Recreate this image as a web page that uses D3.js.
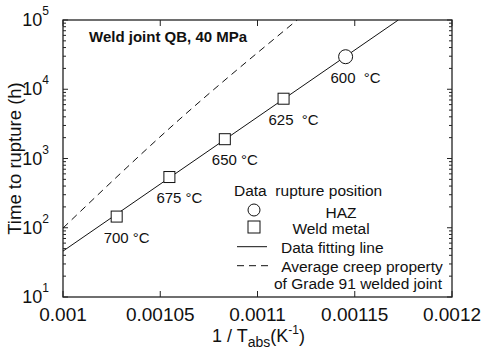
<!DOCTYPE html>
<html>
<head>
<meta charset="utf-8">
<script src="https://cdn.jsdelivr.net/npm/d3@7"></script>
<style>
  body { margin: 0; background: #fff; }
  text { font-family: "Liberation Sans", Arial, sans-serif; fill: #111; white-space: pre; }
</style>
</head>
<body>
<div id="chart"></div>
<script>
// data
const temps = ["600  °C", "625  °C", "650 °C", "675 °C", "700 °C"]
const invT = [0.0011453, 0.0011134, 0.0010832, 0.0010547, 0.0010276]
const hours = [29500, 7300, 1900, 540, 145]
const ruptureAt = ["HAZ", "Weld metal", "Weld metal", "Weld metal", "Weld metal"]

const fitX = [0.001, 0.0011724]
const fitY = [46, 100000]
const avgX = [0.001, 0.0010584, 0.0011204]
const avgY = [99, 3370, 100000]

const xTicks = [0.001, 0.00105, 0.0011, 0.00115, 0.0012]
const xTickLabels = ["0.001", "0.00105", "0.0011", "0.00115", "0.0012"]
const yExponents = [1, 2, 3, 4, 5]

const MARGIN = {top: 20, right: 32, bottom: 54, left: 63}
const W = 484, H = 351
const WIDTH = W - MARGIN.left - MARGIN.right
const HEIGHT = H - MARGIN.top - MARGIN.bottom

const svg = d3.select("#chart").append("svg")
  .attr("width", W).attr("height", H)
const g = svg.append("g")
  .attr("transform", "translate(" + MARGIN.left + "," + MARGIN.top + ")")

const x = d3.scaleLinear().domain([0.001, 0.0012]).range([0, WIDTH])
const y = d3.scaleLog().domain([10, 100000]).range([HEIGHT, 0])

// minor log ticks (2..9 in each decade)
const minor = []
for (let e = 1; e < 5; e++) for (let m = 2; m <= 9; m++) minor.push(m * Math.pow(10, e))
const major = yExponents.map(e => Math.pow(10, e))

const ax = g.append("g").attr("stroke", "#222").attr("stroke-width", 1)
ax.selectAll(".yl").data(major.concat(minor)).enter().append("line")
  .attr("x1", 0).attr("x2", d => major.includes(d) ? 5 : 3)
  .attr("y1", d => y(d)).attr("y2", d => y(d))
ax.selectAll(".yr").data(major.concat(minor)).enter().append("line")
  .attr("x1", WIDTH).attr("x2", d => WIDTH - (major.includes(d) ? 5 : 3))
  .attr("y1", d => y(d)).attr("y2", d => y(d))
ax.selectAll(".xb").data(xTicks).enter().append("line")
  .attr("x1", d => x(d)).attr("x2", d => x(d))
  .attr("y1", HEIGHT).attr("y2", HEIGHT - 6)
ax.selectAll(".xt").data(xTicks).enter().append("line")
  .attr("x1", d => x(d)).attr("x2", d => x(d))
  .attr("y1", 0).attr("y2", 6)

g.append("rect").attr("width", WIDTH).attr("height", HEIGHT)
  .attr("fill", "none").attr("stroke", "#222").attr("stroke-width", 1.3)

// tick labels
g.selectAll(".xlab").data(xTicks).enter().append("text")
  .attr("x", d => x(d)).attr("y", HEIGHT + 24)
  .attr("text-anchor", "middle").style("font-size", "19px")
  .text((d, i) => xTickLabels[i])

const yl = g.selectAll(".ylab").data(yExponents).enter().append("text")
  .attr("x", -14).attr("y", d => y(Math.pow(10, d)) + 6)
  .attr("text-anchor", "end").style("font-size", "18px")
yl.append("tspan").text("10")
yl.append("tspan").attr("dy", -11).style("font-size", "12px").text(d => d)

// axis titles
g.append("text")
  .attr("transform", "translate(" + (-42) + "," + (HEIGHT / 2) + ") rotate(-90)")
  .attr("text-anchor", "middle").style("font-size", "18.5px")
  .text("Time to rupture (h)")

const xt = g.append("text").attr("x", WIDTH / 2 + 1).attr("y", HEIGHT + 45)
  .attr("text-anchor", "middle").style("font-size", "18px")
xt.append("tspan").text("1 / T")
xt.append("tspan").attr("dy", 5).style("font-size", "14px").text("abs")
xt.append("tspan").attr("dy", -5).text("(K")
xt.append("tspan").attr("dy", -8).style("font-size", "12px").text("-1")
xt.append("tspan").attr("dy", 8).text(")")

// lines
g.append("clipPath").attr("id", "clip").append("rect")
  .attr("width", WIDTH).attr("height", HEIGHT)
const line = d3.line().x(d => x(d[0])).y(d => y(d[1]))
g.append("path").attr("clip-path", "url(#clip)")
  .datum(fitX.map((v, i) => [v, fitY[i]]))
  .attr("d", line).attr("fill", "none").attr("stroke", "#111").attr("stroke-width", 1)
g.append("path").attr("clip-path", "url(#clip)")
  .datum(avgX.map((v, i) => [v, avgY[i]]))
  .attr("d", line.curve(d3.curveMonotoneX))
  .attr("fill", "none").attr("stroke", "#111").attr("stroke-width", 1)
  .attr("stroke-dasharray", "7,5")

// markers
const pts = invT.map((v, i) => ({x: v, y: hours[i], pos: ruptureAt[i], t: temps[i]}))
pts.forEach(p => {
  const px = x(p.x), py = y(p.y)
  if (p.pos === "HAZ") {
    g.append("circle").attr("cx", px).attr("cy", py).attr("r", 7)
      .attr("fill", "#fff").attr("stroke", "#111").attr("stroke-width", 1)
  } else {
    g.append("rect").attr("x", px - 5.5).attr("y", py - 5.5)
      .attr("width", 11).attr("height", 11)
      .attr("fill", "#fff").attr("stroke", "#111").attr("stroke-width", 1)
  }
  g.append("text").attr("x", px + 10).attr("y", py + 26)
    .attr("text-anchor", "middle").style("font-size", "15px").text(p.t)
})

g.append("text").attr("x", 26).attr("y", 22)
  .style("font-size", "15px").style("font-weight", "bold")
  .text("Weld joint QB, 40 MPa")

// legend
const lg = g.append("g").attr("transform", "translate(" + (x(0.001) + 171) + ",0)")
lg.append("text").attr("x", 0).attr("y", 176).style("font-size", "15.5px")
  .text("Data  rupture position")
lg.append("circle").attr("cx", 20).attr("cy", 190).attr("r", 6)
  .attr("fill", "none").attr("stroke", "#111")
lg.append("text").attr("x", 107).attr("y", 198).attr("text-anchor", "middle")
  .style("font-size", "15.5px").text("HAZ")
lg.append("rect").attr("x", 14).attr("y", 201).attr("width", 12).attr("height", 12)
  .attr("fill", "none").attr("stroke", "#111")
lg.append("text").attr("x", 97).attr("y", 214).attr("text-anchor", "middle")
  .style("font-size", "15.5px").text("Weld metal")
lg.append("line").attr("x1", 3).attr("x2", 33).attr("y1", 226.7).attr("y2", 226.7)
  .attr("stroke", "#111")
lg.append("text").attr("x", 47).attr("y", 233).style("font-size", "15.5px")
  .text("Data fitting line")
lg.append("line").attr("x1", 3).attr("x2", 36).attr("y1", 245.7).attr("y2", 245.7)
  .attr("stroke", "#111").attr("stroke-dasharray", "7,5")
lg.append("text").attr("x", 128).attr("y", 252).attr("text-anchor", "middle")
  .style("font-size", "15.5px").text("Average creep property")
lg.append("text").attr("x", 124).attr("y", 269).attr("text-anchor", "middle")
  .style("font-size", "15.5px").text("of Grade 91 welded joint")
</script>
</body>
</html>
